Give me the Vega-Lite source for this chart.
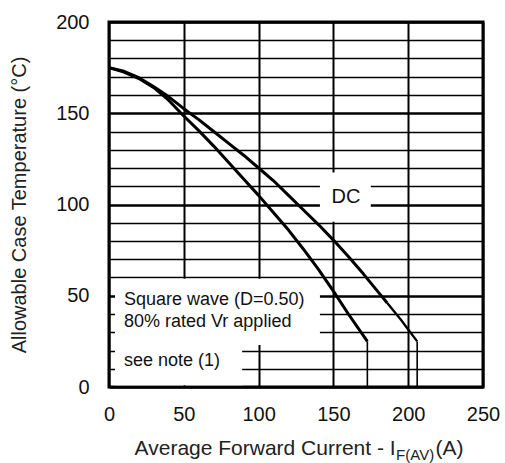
{
  "$schema": "https://vega.github.io/schema/vega-lite/v6.json",
  "width": 374,
  "height": 365,
  "autosize": {"type": "none"},
  "padding": {"left": 109, "top": 22, "right": 22, "bottom": 76},
  "background": "white",
  "config": {
    "view": {"stroke": "black", "strokeWidth": 3},
    "font": "Liberation Sans",
    "text": {"font": "Liberation Sans", "color": "#111"}
  },
  "encoding": {
    "x": {
      "field": "x", "type": "quantitative",
      "scale": {"domain": [0, 250], "nice": false, "zero": false},
      "axis": {
        "values": [0, 50, 100, 150, 200, 250],
        "grid": true, "gridColor": "#000", "gridWidth": 2,
        "ticks": false, "domain": false,
        "labelFontSize": 20, "labelPadding": 17, "labelColor": "#111",
        "labelFlush": false, "labelOverlap": false,
        "title": null
      }
    },
    "y": {
      "field": "y", "type": "quantitative",
      "scale": {"domain": [0, 200], "nice": false, "zero": false},
      "axis": {
        "values": [0, 10, 20, 30, 40, 50, 60, 70, 80, 90, 100, 110, 120, 130, 140, 150, 160, 170, 180, 190, 200],
        "grid": true, "gridColor": "#000",
        "gridWidth": {"condition": {"test": "datum.value % 50 === 0", "value": 2.5}, "value": 1.3},
        "labelExpr": "datum.value % 50 === 0 ? datum.label : ''",
        "ticks": false, "domain": false,
        "labelFontSize": 20, "labelPadding": 20, "labelColor": "#111",
        "labelFlush": false, "labelOverlap": false,
        "title": "Allowable  Case Temperature (°C)",
        "titleFontSize": 20, "titleFontWeight": "normal", "titleColor": "#222",
        "titlePadding": 26
      }
    }
  },
  "layer": [
    {
      "data": {"values": [
        {"box": "note", "x": 4, "x2": 141, "y": 23, "y2": 59.3},
        {"box": "see", "x": 4, "x2": 89, "y": 1, "y2": 23},
        {"box": "dc", "x": 141, "x2": 175, "y": 90.5, "y2": 117.5}
      ]},
      "mark": {"type": "rect", "fill": "white", "strokeWidth": 0},
      "encoding": {"x2": {"field": "x2"}, "y2": {"field": "y2"}}
    },
    {
      "data": {"values": [
        {"curve": "Square wave", "part": "curve", "x": 0, "y": 175},
        {"curve": "Square wave", "part": "curve", "x": 10, "y": 172.5},
        {"curve": "Square wave", "part": "curve", "x": 20, "y": 169},
        {"curve": "Square wave", "part": "curve", "x": 30, "y": 164},
        {"curve": "Square wave", "part": "curve", "x": 40, "y": 157},
        {"curve": "Square wave", "part": "curve", "x": 50, "y": 148.5},
        {"curve": "Square wave", "part": "curve", "x": 60, "y": 140.5},
        {"curve": "Square wave", "part": "curve", "x": 70, "y": 132},
        {"curve": "Square wave", "part": "curve", "x": 80, "y": 123},
        {"curve": "Square wave", "part": "curve", "x": 90, "y": 114},
        {"curve": "Square wave", "part": "curve", "x": 100, "y": 105},
        {"curve": "Square wave", "part": "curve", "x": 110, "y": 95.5},
        {"curve": "Square wave", "part": "curve", "x": 120, "y": 86},
        {"curve": "Square wave", "part": "curve", "x": 130, "y": 75.5},
        {"curve": "Square wave", "part": "curve", "x": 140, "y": 64.5},
        {"curve": "Square wave", "part": "curve", "x": 150, "y": 52.5},
        {"curve": "Square wave", "part": "curve", "x": 160, "y": 40},
        {"curve": "Square wave", "part": "curve", "x": 172.7, "y": 25},
        {"curve": "Square wave", "part": "drop", "x": 172.7, "y": 25},
        {"curve": "Square wave", "part": "drop", "x": 172.7, "y": 0},
        {"curve": "DC", "part": "curve", "x": 0, "y": 175},
        {"curve": "DC", "part": "curve", "x": 10, "y": 173},
        {"curve": "DC", "part": "curve", "x": 20, "y": 169.5},
        {"curve": "DC", "part": "curve", "x": 30, "y": 164.5},
        {"curve": "DC", "part": "curve", "x": 40, "y": 159},
        {"curve": "DC", "part": "curve", "x": 50, "y": 152.5},
        {"curve": "DC", "part": "curve", "x": 60, "y": 146.5},
        {"curve": "DC", "part": "curve", "x": 70, "y": 140},
        {"curve": "DC", "part": "curve", "x": 80, "y": 133.5},
        {"curve": "DC", "part": "curve", "x": 90, "y": 127},
        {"curve": "DC", "part": "curve", "x": 100, "y": 120},
        {"curve": "DC", "part": "curve", "x": 110, "y": 113},
        {"curve": "DC", "part": "curve", "x": 120, "y": 105},
        {"curve": "DC", "part": "curve", "x": 130, "y": 97},
        {"curve": "DC", "part": "curve", "x": 140, "y": 89},
        {"curve": "DC", "part": "curve", "x": 150, "y": 80.5},
        {"curve": "DC", "part": "curve", "x": 160, "y": 71.5},
        {"curve": "DC", "part": "curve", "x": 170, "y": 62},
        {"curve": "DC", "part": "curve", "x": 180, "y": 52},
        {"curve": "DC", "part": "curve", "x": 186, "y": 46},
        {"curve": "DC", "part": "tail", "x": 186, "y": 46},
        {"curve": "DC", "part": "tail", "x": 195, "y": 37},
        {"curve": "DC", "part": "tail", "x": 200, "y": 31.5},
        {"curve": "DC", "part": "tail", "x": 206, "y": 25},
        {"curve": "DC", "part": "drop", "x": 206, "y": 25},
        {"curve": "DC", "part": "drop", "x": 206, "y": 0}
      ]},
      "mark": {"type": "line", "color": "black", "strokeCap": "butt", "strokeJoin": "round"},
      "encoding": {
        "detail": [{"field": "curve"}, {"field": "part"}],
        "strokeWidth": {"field": "part", "type": "ordinal", "scale": {"domain": ["curve", "tail", "drop"], "range": [3, 1.6, 3]}, "legend": null},
        "order": {"value": null}
      }
    },
    {
      "data": {"values": [
        {"label": "Square wave (D=0.50)", "x": 10, "y": 45},
        {"label": "80% rated Vr applied", "x": 10, "y": 33},
        {"label": "see note (1)", "x": 10, "y": 11.5}
      ]},
      "mark": {"type": "text", "align": "left", "baseline": "alphabetic", "fontSize": 18},
      "encoding": {"text": {"field": "label"}}
    },
    {
      "data": {"values": [{"label": "DC", "x": 158.4, "y": 104}]},
      "mark": {"type": "text", "align": "center", "baseline": "middle", "fontSize": 20},
      "encoding": {"text": {"field": "label"}}
    },
    {
      "data": {"values": [{"label": "Average Forward Current - I", "x": 191.6, "y": -37.3}]},
      "mark": {"type": "text", "align": "right", "baseline": "alphabetic", "fontSize": 21, "color": "#222"},
      "encoding": {"text": {"field": "label"}}
    },
    {
      "data": {"values": [{"label": "F(AV)", "x": 191.9, "y": -40}]},
      "mark": {"type": "text", "align": "left", "baseline": "alphabetic", "fontSize": 15, "color": "#222"},
      "encoding": {"text": {"field": "label"}}
    },
    {
      "data": {"values": [{"label": "(A)", "x": 218.2, "y": -37.3}]},
      "mark": {"type": "text", "align": "left", "baseline": "alphabetic", "fontSize": 21, "color": "#222"},
      "encoding": {"text": {"field": "label"}}
    }
  ]
}
